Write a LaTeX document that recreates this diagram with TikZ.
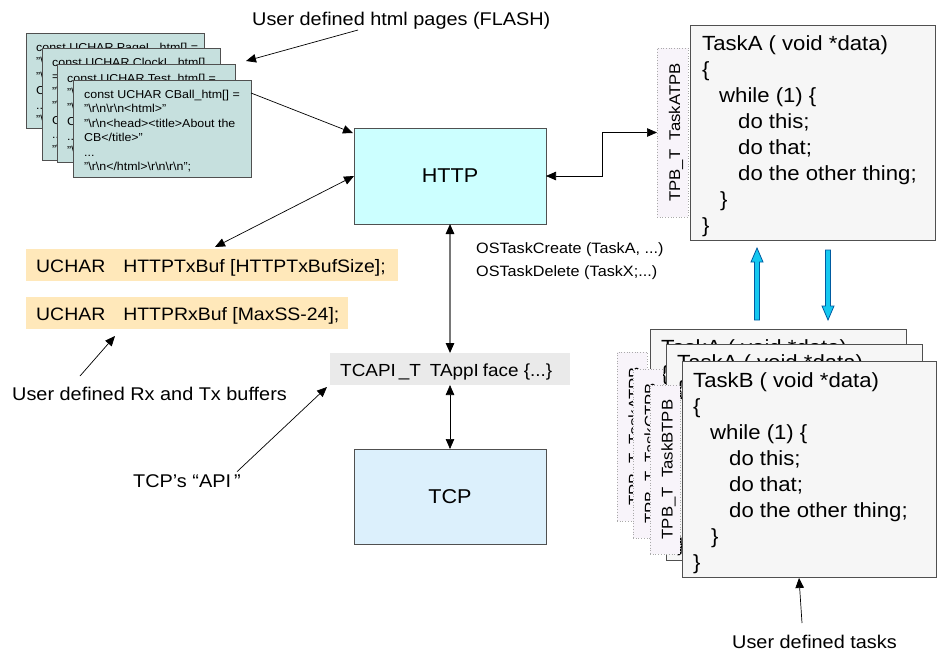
\documentclass[tikz,border=0pt]{standalone}
\usepackage{fontspec}
\setmainfont{Liberation Sans}[FakeStretch=1.08]
\usetikzlibrary{arrows.meta,calc}

\definecolor{pageteal}{RGB}{198,224,222}
\definecolor{httpcyan}{RGB}{204,255,255}
\definecolor{tcpblue}{RGB}{220,240,252}
\definecolor{bufyellow}{RGB}{255,232,186}
\definecolor{apigray}{RGB}{234,234,234}
\definecolor{taskgray}{RGB}{246,246,246}
\definecolor{tpbpink}{RGB}{248,244,250}
\definecolor{tpbline}{RGB}{170,170,170}
\definecolor{boxline}{RGB}{80,80,80}
\definecolor{fatfill}{RGB}{20,200,240}
\definecolor{fatline}{RGB}{0,90,160}

\newcommand\bsl{\textbackslash}
% body of a task routine, #1 = task name (8 lines)
\newcommand\taskbody[1]{#1 ( void *data)\\
\{\\
\hspace*{17pt}while (1) \{\\
\hspace*{36pt}do this;\\
\hspace*{36pt}do that;\\
\hspace*{36pt}do the other thing;\\
\hspace*{18pt}\}\\
\}}
% tail of a html page constant (5 lines)
\newcommand\pagetail{"\bsl r\bsl n\bsl r\bsl n<html>"\\
"\bsl r\bsl n<head><title>About the\\
CB</title>"\\
...\\
"\bsl r\bsl n</html>\bsl r\bsl n\bsl r\bsl n";}

\begin{document}
\begin{tikzpicture}[x=1pt,y=-1pt,
  box/.style={draw=boxline, line width=0.8pt, anchor=north west, inner sep=0, outer sep=0},
  pagebox/.style={box, fill=pageteal, minimum width=178},
  % multi-line texts are placed by the baseline of their last line
  pagetext/.style={anchor=base west, inner sep=0, align=left, font=\fontsize{11.5}{14.5}\selectfont},
  codebox/.style={box, fill=taskgray, minimum width=255, minimum height=216},
  codetext/.style={anchor=base west, inner sep=0, align=left, font=\fontsize{20.5}{26}\selectfont},
  tpbbox/.style={draw=tpbline, dotted, line width=0.7pt, fill=tpbpink, anchor=north west,
    minimum width=30, minimum height=169, inner sep=0, outer sep=0},
  tpbtext/.style={rotate=90, anchor=base, inner sep=0, font=\fontsize{15.5}{18}\selectfont},
  layer/.style={box, font=\fontsize{20}{24}\selectfont},
  flatbox/.style={anchor=north west, inner sep=0, outer sep=0},
  buftext/.style={anchor=base west, inner sep=0, font=\fontsize{18}{22}\selectfont},
  note/.style={anchor=base west, inner sep=0, font=\fontsize{18.4}{22}\selectfont},
  arr/.style={-{Triangle[length=10pt,width=8.5pt]}, line width=0.7pt},
  dbl/.style={{Triangle[length=10pt,width=8.5pt]}-{Triangle[length=10pt,width=8.5pt]}, line width=0.7pt},
  gdbl/.style={{Triangle[length=10pt,width=8.5pt,color=black]}-{Triangle[length=10pt,width=8.5pt,color=black]},
    line width=1.2pt, draw={rgb,255:red,120;green,120;blue,120}},
  fat/.style={draw=fatline, fill=fatfill, line width=0.8pt, line join=miter}
]
\useasboundingbox (0,0) rectangle (937,651);
\fill[white] (0,0) rectangle (937,651);

% ---- stack of html page constants
\node[pagebox, minimum height=95] (p1) at (26,33) {};
\node[pagetext] (p1t) at ($(p1.north west)+(10,90.5)$) {const UCHAR PageL\_htm[] =\\ \pagetail};
\node[pagebox, minimum height=112] (p2) at (42,48) {};
\node[pagetext] (p2t) at ($(p2.north west)+(10,105)$) {const UCHAR ClockL\_htm[]\\ =\\ \pagetail};
\node[pagebox, minimum height=98] (p3) at (57,64) {};
\node[pagetext] (p3t) at ($(p3.north west)+(10,90.5)$) {const UCHAR Test\_htm[] =\\ \pagetail};
\node[pagebox, minimum height=97] (p4) at (73,80) {};
\node[pagetext] (p4t) at ($(p4.north west)+(11,90.5)$) {const UCHAR CBall\_htm[] =\\ \pagetail};

% ---- protocol layers
\node[layer, fill=httpcyan, minimum width=192, minimum height=96] (http) at (354,128) {HTTP};
\node[layer, fill=tcpblue, minimum width=192, minimum height=95] (tcp) at (354,449) {TCP};
\node[flatbox, fill=apigray, minimum width=240, minimum height=32] (tcapi) at (330,353) {};
\node[buftext, font=\fontsize{17.5}{21}\selectfont] (tcapit) at (340,376.7)
  {TCAPI\kern3pt\_T\hspace*{9pt}TAppI\kern4pt face \{...\}};

% ---- buffers
\node[flatbox, fill=bufyellow, minimum width=372, minimum height=32] (txbuf) at (26,249) {};
\node[buftext] (txbuft) at (36,272.7) {UCHAR\hspace*{18pt}HTTPTxBuf [HTTPTxBufSize];};
\node[flatbox, fill=bufyellow, minimum width=322, minimum height=32] (rxbuf) at (26,297) {};
\node[buftext] (rxbuft) at (36,320) {UCHAR\hspace*{18pt}HTTPRxBuf [MaxSS-24];};

% ---- notes
\node[note] (flashlbl) at (252,25) {User defined html pages (FLASH)};
\node[note] (rxlbl) at (12,400) {User defined Rx and Tx buffers};
\node[note] (apilbl) at (133,487.7) {TCP’s “API\kern3pt”};
\node[note] (taskslbl) at (732,648) {User defined tasks};
\node[buftext, align=left, font=\fontsize{15}{23.4}\selectfont] (oscalls) at (476,276.7)
  {OSTaskCreate (TaskA, ...)\\ OSTaskDelete (TaskX;...)};

% ---- running task
\node[tpbbox, minimum width=31] (tpbA) at (657,48) {};
\node[tpbtext] (tpbAt) at ($(tpbA.center)+(7.5,0)$) {TPB\_T\ \ TaskATPB};
\node[codebox, minimum width=245, minimum height=215] (tA) at (690,25) {};
\node[codetext] (tAt) at ($(tA.north west)+(12,207)$) {\taskbody{TaskA}};

% ---- stack of user tasks
\node[codebox, minimum width=256] (b1) at (650,329) {};
\node[codetext] (b1t) at ($(b1.north west)+(11,207.5)$) {\taskbody{TaskA}};
\node[tpbbox] (s1) at (617,352) {};
\node[tpbtext] (s1t) at ($(s1.center)+(7.5,0)$) {TPB\_T\ \ TaskATPB};
\node[codebox, minimum width=256] (b2) at (666,344) {};
\node[codetext] (b2t) at ($(b2.north west)+(11,207.5)$) {\taskbody{TaskA}};
\node[tpbbox] (s2) at (633,369) {};
\node[tpbtext] (s2t) at ($(s2.center)+(7.5,0)$) {TPB\_T\ \ TaskCTPB};
\node[codebox, minimum width=254.5] (b3) at (682,361) {};
\node[codetext] (b3t) at ($(b3.north west)+(11,208)$) {\taskbody{TaskB}};
\node[tpbbox] (s3) at (650,385) {};
\node[tpbtext] (s3t) at ($(s3.center)+(7.5,0)$) {TPB\_T\ \ TaskBTPB};

% ---- connectors
\draw[arr] ($(flashlbl.base west)+(106,5)$) -- ($(p3.north east)+(11,-3)$);
\draw[arr] ($(p4.north east)+(0,13)$) -- ($(http.north west)+(-1,5)$);
\draw[dbl] ($(txbuf.north west)+(189,-2)$) -- (http.west);
\draw[arr] ($(rxlbl.base west)+(68,-24)$) -- ($(rxbuf.south west)+(89,7)$);
\draw[gdbl] (http.south) -- (tcapi.north);
\draw[dbl] (tcapi.south) -- (tcp.north);
\draw[arr] ($(apilbl.base west)+(104,-16)$) -- ($(tcapi.south west)+(-3,2)$);
\draw[dbl] (http.east) -- ++(56,0) |- (tpbA.west);
\draw[arr] ($(taskslbl.base west)+(70,-25)$) -- ($(b3.south west)+(117,1)$);

% ---- task switch arrows
\draw[fat] (754.5,320) -- (754.5,262) -- (751,262) -- (757,248) -- (763,262)
  -- (759.5,262) -- (759.5,320) -- cycle;
\draw[fat] (825.5,250) -- (825.5,306) -- (822,306) -- (828,320) -- (834,306)
  -- (830.5,306) -- (830.5,250) -- cycle;
\end{tikzpicture}
\end{document}
